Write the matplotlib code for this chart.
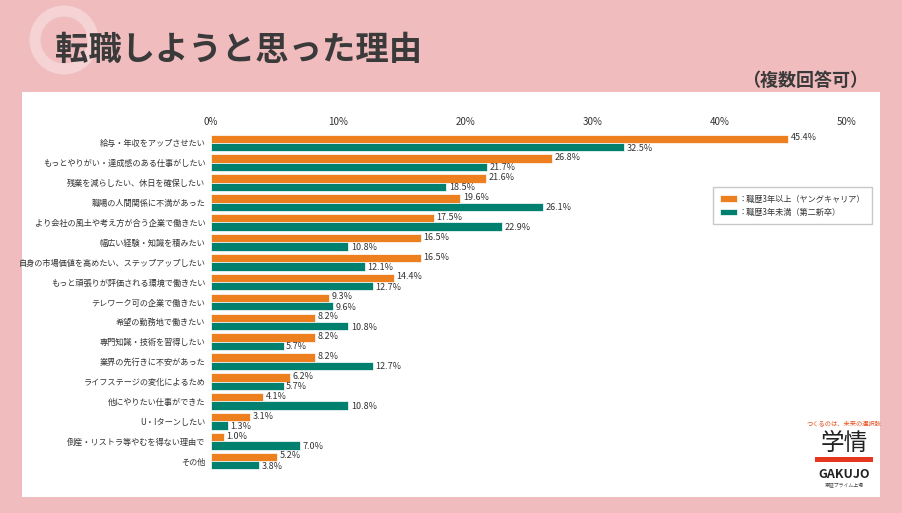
import matplotlib
matplotlib.use("Agg")
import matplotlib.pyplot as plt
from matplotlib.patches import Rectangle, Ellipse
import numpy as np

plt.rcParams['font.family'] = ['Noto Sans CJK JP', 'DejaVu Sans']

categories = ["給与・年収をアップさせたい", "もっとやりがい・達成感のある仕事がしたい", "残業を減らしたい、休日を確保したい",
              "職場の人間関係に不満があった", "より会社の風土や考え方が合う企業で働きたい", "幅広い経験・知識を積みたい",
              "自身の市場価値を高めたい、ステップアップしたい", "もっと頑張りが評価される環境で働きたい", "テレワーク可の企業で働きたい",
              "希望の勤務地で働きたい", "専門知識・技術を習得したい", "業界の先行きに不安があった", "ライフステージの変化によるため",
              "他にやりたい仕事ができた", "U・Iターンしたい", "倒産・リストラ等やむを得ない理由で", "その他"]
young_career = [45.4, 26.8, 21.6, 19.6, 17.5, 16.5, 16.5, 14.4, 9.3, 8.2, 8.2, 8.2, 6.2, 4.1, 3.1, 1.0, 5.2]
second_new = [32.5, 21.7, 18.5, 26.1, 22.9, 10.8, 12.1, 12.7, 9.6, 10.8, 5.7, 12.7, 5.7, 10.8, 1.3, 7.0, 3.8]
xticks = [0, 10, 20, 30, 40, 50]
series_names = ["：職歴3年以上（ヤングキャリア）", "：職歴3年未満（第二新卒）"]

ORANGE = "#ee7f1e"
TEAL = "#00806f"
PINK = "#f0bcbe"
W, H = 902, 513

fig = plt.figure(figsize=(9.02, 5.13), dpi=100)
fig.patch.set_facecolor(PINK)
bg = fig.add_axes([0, 0, 1, 1], zorder=-1)
bg.set_xlim(0, W); bg.set_ylim(H, 0); bg.axis("off")
bg.add_patch(Rectangle((22, 92), 858, 405, facecolor="white", edgecolor="none"))
bg.add_patch(Ellipse((64, 40), 58, 58, facecolor="none", edgecolor="#f5d3d4", lw=8))
bg.text(55, 50, "転職しようと思った理由", fontsize=24, fontweight="bold", color="#3a3a3a", va="center")
bg.text(868, 80, "（複数回答可）", fontsize=13, fontweight="bold", color="#3a3a3a", va="center", ha="right")
# logo
bg.text(844, 423, "つくるのは、未来の選択肢", fontsize=4.5, color="#e8501e", ha="center", va="center")
bg.text(844, 443, "学情", fontsize=17, color="#222", ha="center", va="center")
bg.add_patch(Rectangle((815, 457), 58, 5, facecolor="#e5361e", edgecolor="none"))
bg.text(844, 474, "GAKUJO", fontsize=9, fontweight="bold", color="#222", ha="center", va="center")
bg.text(844, 485, "東証プライム上場", fontsize=3.5, color="#444", ha="center", va="center")

ax = fig.add_axes([211/W, 1-471/H, (847-211)/W, (471-133)/H])
n = len(categories)
y = np.arange(n)
h = 0.42
ax.barh(y - h/2, young_career, height=h, color=ORANGE, edgecolor="white", linewidth=0.5, label=series_names[0])
ax.barh(y + h/2, second_new, height=h, color=TEAL, edgecolor="white", linewidth=0.5, label=series_names[1])
for i in range(n):
    ax.text(young_career[i] + 0.2, y[i] - h/2 - 0.05, f"{young_career[i]}%", fontsize=6.5, va="center", color="#333")
    ax.text(second_new[i] + 0.2, y[i] + h/2 + 0.05, f"{second_new[i]}%", fontsize=6.5, va="center", color="#333")
ax.set_ylim(n - 0.5, -0.5)
ax.set_xlim(0, 50)
ax.set_yticks(y)
ax.set_yticklabels(categories, fontsize=5.9, color="#333")
ax.set_xticks(xticks)
ax.set_xticklabels([f"{t}%" for t in xticks], fontsize=7, color="#333")
ax.xaxis.tick_top()
ax.tick_params(length=0, pad=4)
for s in ax.spines.values():
    s.set_visible(False)
ax.set_facecolor("none")

leg = ax.legend(loc="upper left", bbox_to_anchor=((709-211)/636, 1 - (183-133)/338),
                fontsize=5.9, frameon=True, fancybox=False, edgecolor="#bbbbbb",
                handlelength=2.0, handleheight=0.8, borderpad=0.9, handletextpad=0.2)
for t in leg.get_texts():
    t.set_color("#333")

fig.savefig("out.png", dpi=100, facecolor=fig.get_facecolor())
